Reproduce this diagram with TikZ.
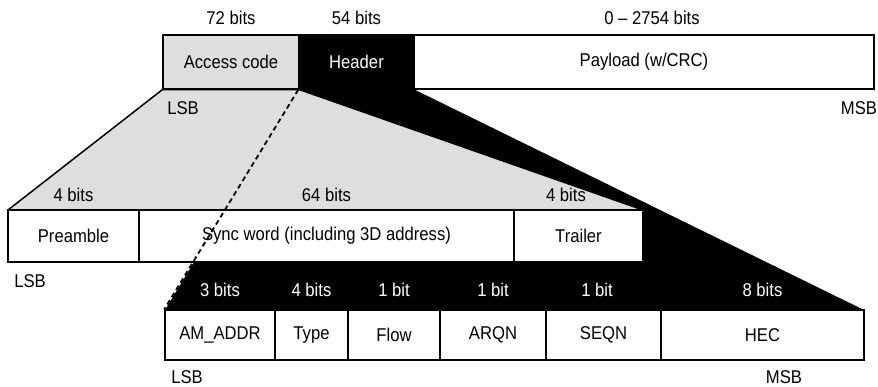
\documentclass[tikz,border=0pt]{standalone}
\usepackage{fontspec}
\setmainfont{Liberation Sans}[FakeStretch=0.9]
\begin{document}
\begin{tikzpicture}[x=1pt,y=-1pt,
  cell/.style={draw=black, line width=1.5pt, fill=white, inner sep=0pt, minimum height=#1, font=\fontsize{18.5}{20}\selectfont},
  cell/.default=52,
  lbl/.style={inner sep=0pt, font=\fontsize{18.5}{20}\selectfont},
  wlbl/.style={lbl, text=white},
  lightgray/.style={fill=black!13}]
\useasboundingbox (0,0) rectangle (878,387);
% rows (positions)
\node[cell=54, lightgray, minimum width=136] (ac) at (231,62) {Access code};
\node[cell=54, fill=black, text=white, minimum width=115] (hd) at (356.5,62) {Header};
\node[cell=54, minimum width=460] (pl) at (644,62) {Payload (w/CRC)};
% trapezoids
\fill[black] (hd.south west) -- (hd.south east) -- (864,310) -- (165,310) -- cycle;
\filldraw[lightgray, draw=black, line width=1.5pt, line join=round] (ac.south west) -- (ac.south east) -- (643,210) -- (8,210) -- cycle;
% redraw top row
\node[cell=54, lightgray, minimum width=136] at (231,62) {Access code};
\node[cell=54, fill=black, text=white, minimum width=115] at (356.5,62) {Header};
\node[cell=54, minimum width=460] at (644,62) {Payload (w/CRC)};
% row 2
\node[cell=52, minimum width=131] (pre) at (73.5,236) {Preamble};
\node[cell=52, minimum width=375] (sync) at (326.5,236) {Sync word (including 3D address)};
\node[cell=52, minimum width=129] (tr) at (578.5,236) {Trailer};
% row 3
\node[cell=50, minimum width=110] (am) at (220,335) {AM\_ADDR};
\node[cell=50, minimum width=73] (ty) at (311.5,335) {Type};
\node[cell=50, minimum width=92] (fl) at (394,335) {Flow};
\node[cell=50, minimum width=106] (ar) at (493,335) {ARQN};
\node[cell=50, minimum width=115] (sq) at (603.5,335) {SEQN};
\node[cell=50, minimum width=203] (hec) at (762.5,335) {HEC};
% dashed connector
\draw[line width=1.8pt, dash pattern=on 5pt off 3.5pt] (hd.south west) -- (am.north west);
% bit labels
\node[lbl] (b1) at (231,18) {72 bits};
\node[lbl] (b2) at (356.5,18) {54 bits};
\node[lbl] (b3) at (652,18) {0 -- 2754 bits};
\node[lbl] (b4) at (73.5,195) {4 bits};
\node[lbl] (b5) at (326.5,195) {64 bits};
\node[lbl] (b6) at (566,195) {4 bits};
\node[wlbl] (b7) at (220,290) {3 bits};
\node[wlbl] (b8) at (311.5,290) {4 bits};
\node[wlbl] (b9) at (394,290) {1 bit};
\node[wlbl] (b10) at (493,290) {1 bit};
\node[wlbl] (b11) at (597,290) {1 bit};
\node[wlbl] (b12) at (762.5,290) {8 bits};
% LSB / MSB
\node[lbl] (l1) at (183,108) {LSB};
\node[lbl] (m1) at (859,108) {MSB};
\node[lbl] (l2) at (30,281) {LSB};
\node[lbl] (l3) at (187,377) {LSB};
\node[lbl] (m3) at (784,377) {MSB};
\end{tikzpicture}
\end{document}
